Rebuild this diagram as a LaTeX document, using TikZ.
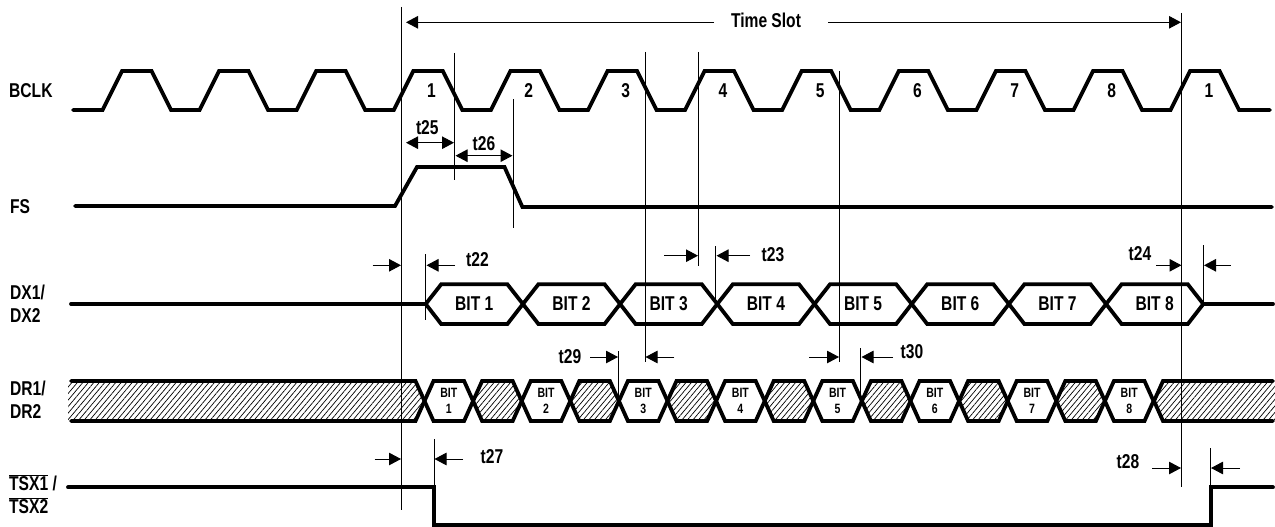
\documentclass[tikz,border=0pt]{standalone}
\usepackage{fontspec}
\setmainfont[FakeStretch=0.78]{Liberation Sans}
\usetikzlibrary{arrows.meta,patterns.meta}
\tikzstyle{labeltext} = [font=\fontsize{20}{23}\selectfont\bfseries,inner sep=0pt]
\tikzstyle{tinytext} = [font=\fontsize{13.5}{16.5}\selectfont\bfseries,inner sep=0pt,align=center]
\tikzstyle{sigline} = [line width=3.8pt,line cap=round,line join=miter]
\tikzstyle{refline} = [line width=1pt]
\tikzstyle{dimarrow} = [line width=1pt,-{Triangle[length=12pt,width=12.5pt]}]
\tikzstyle{bothways} = [line width=1pt,{Triangle[length=12pt,width=12.5pt]}-{Triangle[length=12pt,width=12.5pt]}]
\tikzstyle{hatched} = [pattern={Lines[angle=50,distance=4.2pt,line width=0.7pt]}]

\begin{document}
\begin{tikzpicture}[x=1pt,y=-1pt]
  \useasboundingbox (0,0) rectangle (1275,527);
  % signal names
  \node[labeltext,anchor=west] (bclk) at (9,91) {BCLK};
  \node[labeltext,anchor=west] (fs) at (10,207) {FS};
  \node[labeltext,anchor=west,align=left] (dx) at (10,303.5) {DX1/\\DX2};
  \node[labeltext,anchor=west,align=left] (dr) at (10,400) {DR1/\\DR2};
  \node[labeltext,anchor=west,align=left] (tsx) at (9,494) {$\overline{\mbox{TSX1}}$ /\\$\overline{\mbox{TSX2}}$};

  % BCLK and FS
  \draw[sigline] (73,110) foreach \k in {0,...,11} {
      -- ({102.5+97.1*\k},110) -- ({122+97.1*\k},71) -- ({151.5+97.1*\k},71) -- ({171+97.1*\k},110)
    } -- (1270,110);
  \foreach \k [count=\n from 0] in {1,...,8,1} {
    \node[labeltext] (clk\n) at ({431.4+97.2*\n},90.7) {\k};
  }
  \draw[sigline] (75,206) -- (395,206) -- (417,167) -- (504.5,167) -- (522.4,207) -- (1272,207);

  % DX1/DX2
  \draw[sigline] (71,304) -- (425.7,304);
  \foreach \k in {1,...,8} {
    \pgfmathsetmacro{\cx}{425.7+97.2*(\k-1)}
    \draw[sigline,line cap=butt] (\cx,304) -- (\cx+15.5,284.3) -- (\cx+81.7,284.3) -- (\cx+97.2,304)
      -- (\cx+81.7,324) -- (\cx+15.5,324) -- cycle;
    \node[labeltext] (bit\k) at (\cx+48.6,304) {BIT \k};
  }
  \draw[sigline] (1203,304) -- (1273,304);

  % DR1/DR2
  \fill[hatched] (68,382) -- (415.5,382) -- (424.5,401) -- (415.5,420) -- (68,420) -- cycle;
  \fill[hatched] (1275,382) -- (1163,382) -- (1154,401) -- (1163,420) -- (1275,420) -- cycle;
  \draw[sigline] (71,381) -- (415.5,381) -- (424.5,401) -- (415.5,421) -- (71,421);
  \draw[sigline] (1273,381) -- (1163,381) -- (1154,401) -- (1163,421) -- (1273,421);
  \foreach \k in {0,...,14} {
    \pgfmathsetmacro{\cx}{424.5+48.6*\k}
    \pgfmathparse{int(mod(\k,2))}
    \ifnum\pgfmathresult=1
      \fill[hatched] (\cx,401) -- (\cx+9,381) -- (\cx+39.6,381) -- (\cx+48.6,401) -- (\cx+39.6,421) -- (\cx+9,421) -- cycle;
    \else
      \pgfmathtruncatemacro{\bitno}{\k/2+1}
      \node[tinytext] (cell\k) at (\cx+24.3,401) {BIT\\\bitno};
    \fi
    \draw[sigline,line cap=butt] (\cx,401) -- (\cx+9,381) -- (\cx+39.6,381) -- (\cx+48.6,401)
      -- (\cx+39.6,421) -- (\cx+9,421) -- cycle;
  }

  % TSX1/TSX2
  \draw[sigline] (68,487.3) -- (434,487.3) -- (434,525) -- (1211,525) -- (1211,487.3) -- (1273,487.3);

  % reference lines
  \draw[refline] (401,7) -- (401,510);
  \draw[refline] (1181.5,13) -- (1181.5,487);
  \draw[refline] (454.3,53) -- (454.3,180);
  \draw[refline] (513,99) -- (513,228);
  \draw[refline] (645,52) -- (645,362);
  \draw[refline] (698,52) -- (698,266);
  \draw[refline] (715.7,246) -- (715.7,302);
  \draw[refline] (839,71) -- (839,362);
  \draw[refline] (860.7,348) -- (860.7,398);
  \draw[refline] (425.7,254) -- (425.7,320);
  \draw[refline] (434,439) -- (434,487);
  \draw[refline] (618,351) -- (618,398);
  \draw[refline] (1203.4,245) -- (1203.4,303);
  \draw[refline] (1210,448) -- (1210,487);

  % time slot
  \node[labeltext] (slot) at (766,20.5) {Time Slot};
  \draw[dimarrow] (714,22.3) -- (406,22.3);
  \draw[dimarrow] (828,22.3) -- (1181,22.3);

  % timing marks
  \node[labeltext] (t25) at (427.3,128) {t25};
  \draw[bothways] (406,142.7) -- (454,142.7);
  \node[labeltext] (t26) at (484,144) {t26};
  \draw[bothways] (455.5,155.7) -- (512.5,155.7);
  \node[labeltext] (t22) at (477.5,260) {t22};
  \draw[dimarrow] (372.6,265.3) -- (401,265.3);
  \draw[dimarrow] (455,265.3) -- (426.5,265.3);
  \node[labeltext] (t23) at (773,255) {t23};
  \draw[dimarrow] (664,255.7) -- (698,255.7);
  \draw[dimarrow] (750,255.7) -- (716.5,255.7);
  \node[labeltext] (t24) at (1140,254) {t24};
  \draw[dimarrow] (1156,265.3) -- (1181.5,265.3);
  \draw[dimarrow] (1230.5,265.3) -- (1204,265.3);
  \node[labeltext] (t29) at (570,357) {t29};
  \draw[dimarrow] (590,357) -- (618,357);
  \draw[dimarrow] (674.4,357) -- (645.5,357);
  \node[labeltext] (t30) at (912,351.7) {t30};
  \draw[dimarrow] (809,357) -- (839,357);
  \draw[dimarrow] (893,357) -- (861.5,357);
  \node[labeltext] (t27) at (492,457) {t27};
  \draw[dimarrow] (374.7,459) -- (401,459);
  \draw[dimarrow] (463,459) -- (434.5,459);
  \node[labeltext] (t28) at (1128,462) {t28};
  \draw[dimarrow] (1152,468) -- (1181,468);
  \draw[dimarrow] (1240,468) -- (1211,468);
\end{tikzpicture}
\end{document}
